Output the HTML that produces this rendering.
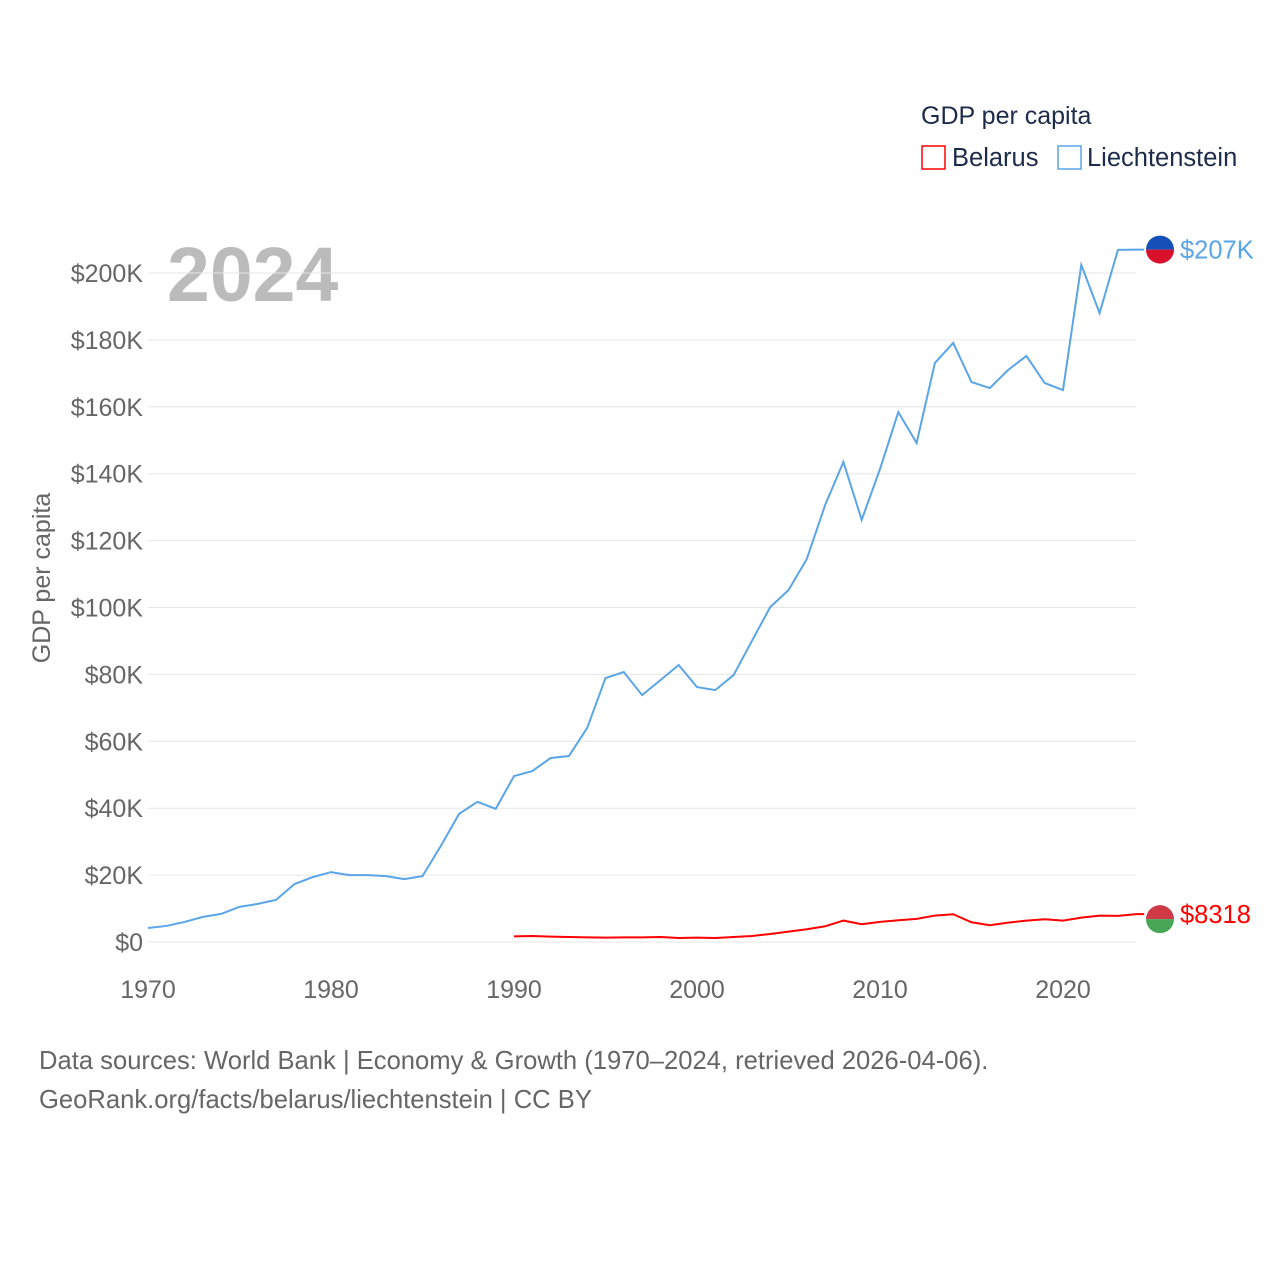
<!DOCTYPE html>
<html><head><meta charset="utf-8"><style>
body{margin:0;background:#fff;font-family:"Liberation Sans",sans-serif}
svg text{font-family:"Liberation Sans",sans-serif}
</style></head><body>
<svg id="c" width="1280" height="1280">
<text x="921" y="124" font-size="25" fill="#1d2b4a">GDP per capita</text>
<rect x="922" y="146" width="23" height="23" fill="none" stroke="#f00" stroke-width="1.5"/>
<text x="952" y="166" font-size="25.5" fill="#1d2b4a">Belarus</text>
<rect x="1058" y="146" width="23" height="23" fill="none" stroke="#5aa5e8" stroke-width="1.5"/>
<text x="1087" y="166" font-size="25.5" fill="#1d2b4a">Liechtenstein</text>
<text x="167" y="301" font-size="77" font-weight="bold" fill="#bbb">2024</text>
<text transform="translate(50,578) rotate(-90)" text-anchor="middle" font-size="25" fill="#666">GDP per capita</text>
<g id="grid"></g><g id="lines"></g>
<text x="39" y="1069" font-size="25.6" fill="#666">Data sources: World Bank | Economy &amp; Growth (1970–2024, retrieved 2026-04-06).</text>
<text x="39" y="1108" font-size="25.6" fill="#666">GeoRank.org/facts/belarus/liechtenstein | CC BY</text>
</svg>
<script>
const yTicks=[0,20,40,60,80,100,120,140,160,180,200];
const xTicks=[1970,1980,1990,2000,2010,2020];
const lieYears=[];for(let y=1970;y<=2024;y++)lieYears.push(y);
const lieVals=[4.2,4.8,6,7.5,8.4,10.5,11.4,12.6,17.3,19.4,20.9,20,20,19.7,18.8,19.7,28.7,38.3,41.9,39.8,49.6,51.1,55,55.6,64,78.9,80.7,73.8,78.3,82.8,76.2,75.3,79.8,90,100.1,105.2,114.5,130.6,143.5,126.2,141.4,158.4,149.2,173.1,179.1,167.4,165.6,171,175.2,167.1,165,202.4,188,206.9,207];
const belYears=[];for(let y=1990;y<=2024;y++)belYears.push(y);
const belVals=[1.7,1.8,1.6,1.5,1.4,1.3,1.4,1.4,1.5,1.2,1.3,1.2,1.5,1.8,2.4,3.1,3.8,4.7,6.4,5.3,6.0,6.5,6.9,7.9,8.3,5.9,5.0,5.8,6.4,6.8,6.4,7.3,7.9,7.8,8.318];
const X=y=>148+(y-1970)*18.3, Y=v=>942-v*3.345;
const NS="http://www.w3.org/2000/svg";
const g=document.getElementById('grid'), L=document.getElementById('lines');
function mk(t,a,p){const e=document.createElementNS(NS,t);for(const k in a)e.setAttribute(k,a[k]);p.appendChild(e);return e;}
yTicks.forEach(v=>{
 const l=mk('line',{x1:148,x2:1136,y1:Y(v),y2:Y(v),stroke:'#e6e6e6'},g);
 
 
 const t=mk('text',{x:143,y:Y(v)+9,'text-anchor':'end','font-size':25,fill:'#666'},g);
 t.textContent=v===0?'$0':'$'+v+'K';
 
 
});
xTicks.forEach(v=>{
 const t=mk('text',{x:X(v),y:998,'text-anchor':'middle','font-size':25,fill:'#666'},g);
 t.textContent=v;
 
 
});
function line(ys,vs,c,name){
 let d=ys.map((y,i)=>(i?'L':'M')+X(y)+' '+Y(vs[i])).join(' ');
 d+=' L'+(X(ys[ys.length-1])+8)+' '+Y(vs[vs.length-1]);
 const p=mk('path',{d:d,fill:'none',stroke:c,'stroke-width':2},L);
 
 
}
line(lieYears,lieVals,'#5aa5e8','liechtenstein-line');
line(belYears,belVals,'#f00','belarus-line');
const ly=Y(lieVals[lieVals.length-1]), by=Y(belVals[belVals.length-1]);
const f1=mk('g',{},L);
mk('path',{d:`M1146 ${ly} a14 14 0 0 1 28 0 z`,fill:'#1550b8'},f1);
mk('path',{d:`M1146 ${ly} a14 14 0 0 0 28 0 z`,fill:'#d8102b'},f1);
const f2=mk('g',{},L);
mk('path',{d:`M1146 ${by+5} a14 14 0 0 1 28 0 z`,fill:'#cf3a46'},f2);
mk('path',{d:`M1146 ${by+5} a14 14 0 0 0 28 0 z`,fill:'#4aa657'},f2);
const t1=mk('text',{x:1180,y:ly+9,'font-size':25.5,fill:'#5aa5e8'},L);t1.textContent='$207K';


const t2=mk('text',{x:1180,y:by+9,'font-size':25.5,fill:'#f00'},L);t2.textContent='$8318';


</script>
</body></html>
